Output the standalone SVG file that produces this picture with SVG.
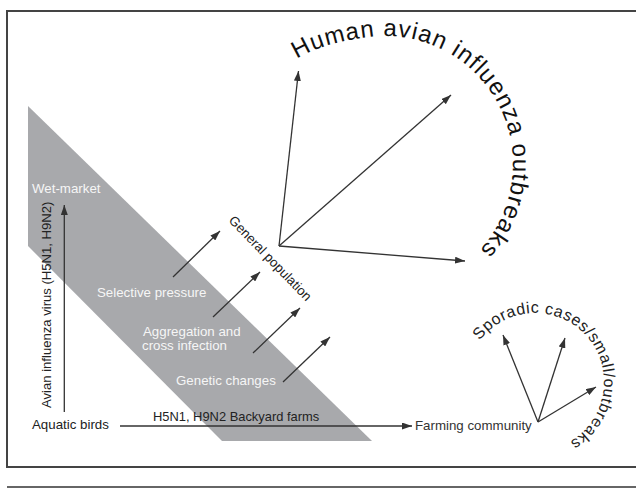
<svg xmlns="http://www.w3.org/2000/svg" width="636" height="497" viewBox="0 0 636 497">
<style>
text{font-family:"Liberation Sans",Arial,sans-serif;}
.lbl{font-size:13.3px;fill:#222;}
.wht{font-size:13.3px;fill:#f6f6f6;}
.arc{fill:#111;}
.ln{stroke:#333;stroke-width:1.3;fill:none;}
</style>
<defs>
<marker id="ah" markerUnits="userSpaceOnUse" markerWidth="10" markerHeight="7" refX="10" refY="3.5" orient="auto">
<path d="M0,0 L10,3.5 L0,7 z" fill="#333"/>
</marker>
<path id="bigArc" d="M297,59 Q321.8,42.9 369.4,37 A128,128 0 0 1 458.4,268.9"/>
<path id="smallArc" d="M479.9,340.47 A69,69 0 1 1 546.98,449.95"/>
</defs>
<rect x="0" y="0" width="636" height="497" fill="#fff"/>
<rect x="7" y="11" width="640" height="456" fill="none" stroke="#444" stroke-width="2"/>
<line x1="7" y1="487" x2="636" y2="487" stroke="#333" stroke-width="1.5"/>
<polygon id="band" points="28,106 28,246 222,441 372,441" fill="#a8a9ac"/>

<g id="connectors">
<line class="ln" x1="64.3" y1="412" x2="64.3" y2="205" marker-end="url(#ah)"/>
<line class="ln" x1="120" y1="426" x2="412" y2="426" marker-end="url(#ah)"/>
<line class="ln" x1="173" y1="277" x2="220" y2="231" marker-end="url(#ah)"/>
<line class="ln" x1="213" y1="317" x2="260" y2="272" marker-end="url(#ah)"/>
<line class="ln" x1="253" y1="353" x2="300" y2="308" marker-end="url(#ah)"/>
<line class="ln" x1="283" y1="382" x2="330" y2="337" marker-end="url(#ah)"/>
<line class="ln" x1="279" y1="246" x2="298.5" y2="71" marker-end="url(#ah)"/>
<line class="ln" x1="279" y1="246" x2="451" y2="95" marker-end="url(#ah)"/>
<line class="ln" x1="279" y1="246" x2="465" y2="261" marker-end="url(#ah)"/>
<line class="ln" x1="538" y1="422" x2="503" y2="335" marker-end="url(#ah)"/>
<line class="ln" x1="538" y1="422" x2="565" y2="338" marker-end="url(#ah)"/>
<line class="ln" x1="538" y1="422" x2="596" y2="387" marker-end="url(#ah)"/>
</g>

<g id="wet-market"><text class="wht" x="32" y="193">Wet-market</text></g>
<g id="virus-label"><text class="lbl" transform="translate(50.7,408) rotate(-90)" style="font-size:13.1px">Avian influenza virus (H5N1, H9N2)</text></g>
<g id="aquatic-birds"><text class="lbl" x="32" y="429">Aquatic birds</text></g>
<g id="backyard-farms"><text class="lbl" x="153" y="421" style="font-size:12.9px">H5N1, H9N2 Backyard farms</text></g>
<g id="farming-community"><text class="lbl" x="415" y="430" style="fill:#333">Farming community</text></g>
<g id="selective-pressure"><text class="wht" x="97" y="297">Selective pressure</text></g>
<g id="aggregation"><text class="wht" x="143" y="336">Aggregation and</text><text class="wht" x="142" y="350">cross infection</text></g>
<g id="genetic-changes"><text class="wht" x="176" y="385">Genetic changes</text></g>
<g id="general-population"><text class="lbl" transform="translate(228,221) rotate(46)">General population</text></g>
<g id="human-outbreaks"><text class="arc" style="font-size:24px;letter-spacing:1px"><textPath href="#bigArc">Human avian influenza outbreaks</textPath></text></g>
<g id="sporadic-cases"><text class="arc" style="font-size:16px;letter-spacing:0.6px;fill:#222"><textPath href="#smallArc">Sporadic cases/small/outbreaks</textPath></text></g>
</svg>
